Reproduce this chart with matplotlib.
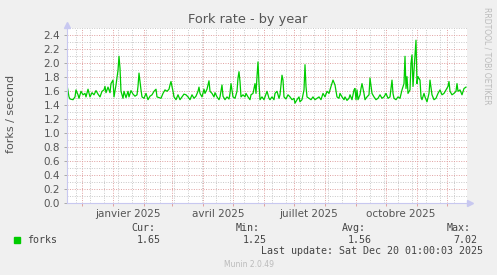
import datetime as dt
import pandas as pd
import matplotlib
matplotlib.use("Agg")
import matplotlib.pyplot as plt
import matplotlib.dates as mdates
from matplotlib.patches import Rectangle

# jours depuis le 16 nov 2024 et taux de forks
jours = [0, 2, 3, 6, 8, 9, 11, 12, 14, 16, 18, 19, 21, 23, 25, 27, 29, 31, 33, 35,
         37, 38, 39, 41, 43, 44, 46, 47, 49, 51, 52, 53, 54, 56, 57, 59, 61, 62, 64, 66,
         68, 70, 71, 72, 74, 75, 77, 79, 81, 83, 85, 87, 89, 90, 92, 94, 96, 98, 100, 102,
         103, 104, 106, 107, 109, 111, 113, 115, 117, 119, 121, 123, 125, 127, 129, 131, 132, 133,
         135, 137, 138, 140, 142, 143, 145, 147, 148, 150, 152, 153, 155, 156, 158, 160, 162, 163,
         164, 166, 168, 170, 171, 172, 173, 174, 176, 178, 179, 181, 183, 184, 186, 188, 189, 190,
         191, 192, 193, 195, 197, 198, 200, 202, 203, 205, 207, 208, 210, 212, 213, 215, 216, 217,
         219, 221, 223, 225, 227, 228, 230, 232, 233, 235, 237, 238, 239, 240, 242, 244, 246, 248,
         250, 252, 254, 256, 258, 260, 262, 264, 266, 268,
         270, 272, 273, 275, 277, 278, 280, 282, 283, 285, 287, 288, 289, 290, 291, 293, 294, 295,
         297, 298, 300, 302, 303, 305, 307, 309, 311, 313, 315, 317, 319, 321, 323, 325, 326, 327,
         329, 331, 333, 335, 337, 338, 339, 340, 341, 343, 344, 345, 346, 347, 349, 350, 351, 353,
         354, 355, 357, 358, 360, 362, 363, 365, 367, 369, 371, 373, 375, 377, 379, 381, 382, 383,
         385, 387, 389, 390, 391, 393, 395, 397, 399]
forks = [1.69, 1.52, 1.49, 1.48, 1.52, 1.62, 1.55, 1.50, 1.60, 1.55, 1.57, 1.52, 1.63, 1.52, 1.58, 1.55, 1.61, 1.56, 1.52, 1.60,
         1.62, 1.67, 1.58, 1.66, 1.58, 1.71, 1.76, 1.52, 1.69, 1.90, 2.10, 1.93, 1.60, 1.50, 1.60, 1.51, 1.60, 1.52, 1.61, 1.56,
         1.53, 1.55, 1.67, 1.86, 1.62, 1.52, 1.50, 1.57, 1.48, 1.53, 1.55, 1.60, 1.63, 1.52, 1.51, 1.50, 1.57, 1.62, 1.60, 1.63,
         1.69, 1.74, 1.60, 1.52, 1.48, 1.55, 1.48, 1.52, 1.56, 1.55, 1.52, 1.48, 1.55, 1.50, 1.53, 1.60, 1.66, 1.57,
         1.52, 1.63, 1.57, 1.63, 1.75, 1.60, 1.57, 1.52, 1.58, 1.52, 1.48, 1.52, 1.69, 1.53, 1.48, 1.52, 1.49, 1.57,
         1.71, 1.52, 1.50, 1.60, 1.79, 1.88, 1.74, 1.52, 1.55, 1.52, 1.57, 1.52, 1.48, 1.55, 1.57, 1.71, 1.57, 1.81,
         2.02, 1.71, 1.48, 1.52, 1.48, 1.52, 1.60, 1.50, 1.48, 1.52, 1.48, 1.57, 1.60, 1.50, 1.55, 1.83, 1.76, 1.52,
         1.49, 1.55, 1.52, 1.48, 1.50, 1.43, 1.48, 1.52, 1.45, 1.48, 1.62, 1.98, 1.67, 1.52, 1.50, 1.48, 1.52, 1.48,
         1.50, 1.52, 1.48, 1.57, 1.52, 1.60, 1.57, 1.67, 1.76, 1.69,
         1.52, 1.50, 1.57, 1.52, 1.48, 1.52, 1.47, 1.50, 1.55, 1.48, 1.62, 1.64, 1.48, 1.62, 1.48, 1.55, 1.64, 1.71,
         1.57, 1.48, 1.52, 1.55, 1.79, 1.57, 1.52, 1.48, 1.50, 1.55, 1.50, 1.52, 1.57, 1.50, 1.52, 1.76, 1.57, 1.50,
         1.48, 1.52, 1.50, 1.62, 1.71, 2.10, 1.64, 1.81, 1.57, 1.62, 2.00, 2.12, 1.67, 1.90, 2.33, 1.71, 1.81, 1.76,
         1.52, 1.48, 1.57, 1.52, 1.45, 1.57, 1.76, 1.55, 1.48, 1.50, 1.57, 1.62, 1.55, 1.57, 1.62, 1.67, 1.74, 1.60,
         1.55, 1.57, 1.60, 1.71, 1.60, 1.62, 1.55, 1.64, 1.66]

mois_labels = ["janvier 2025", "avril 2025", "juillet 2025", "octobre 2025"]
mois_dates = [dt.datetime(2025, 1, 16), dt.datetime(2025, 4, 16), dt.datetime(2025, 7, 16), dt.datetime(2025, 10, 16)]

stats_noms = ["Cur:", "Min:", "Avg:", "Max:"]
stats_vals = ["1.65", "1.25", "1.56", "7.02"]

debut = dt.datetime(2024, 11, 16)
fin = dt.datetime(2025, 12, 21)
dates = [debut + dt.timedelta(days=d) for d in jours]

W, H = 497, 275
fig = plt.figure(figsize=(W / 100, H / 100), dpi=100, facecolor="#f0f0f0")
ax = fig.add_axes([67 / W, 1 - 203.3 / H, 400 / W, 175 / H])
ax.set_facecolor("white")

gris = "#555555"
axe = "#c8c8f0"
rouge = "#e0a0a0"
grisgrille = "#c8c8c8"

ax.set_xlim(debut, fin)
ax.set_ylim(0, 2.5)

# grille horizontale
ax.set_yticks([i * 0.2 for i in range(13)])
ax.set_yticklabels(["%.1f" % (i * 0.2) for i in range(13)])
ax.set_yticks([i * 0.1 + 0.1 for i in range(0, 25, 2)], minor=True)
ax.grid(which="major", axis="y", color=rouge, linestyle=(0, (1, 1.5)), lw=0.7)
ax.grid(which="minor", axis="y", color=grisgrille, linestyle=(0, (1, 1.5)), lw=0.7)

# grille verticale : mois (rouge) et deux semaines (gris)
ax.xaxis.set_major_locator(mdates.MonthLocator())
ax.xaxis.set_major_formatter(plt.NullFormatter())
semaines = pd.date_range("2024-11-25", "2025-12-20", freq="14D")
ax.set_xticks(mdates.date2num(semaines.to_pydatetime()), minor=True)
ax.grid(which="major", axis="x", color=rouge, linestyle=(0, (1, 1.5)), lw=0.7)
ax.grid(which="minor", axis="x", color=grisgrille, linestyle=(0, (1, 1.5)), lw=0.7)
ax.set_axisbelow(True)

ax.tick_params(axis="y", which="major", length=2, width=0.7, color="#aaaaaa", pad=3,
               labelsize=7.5, labelcolor=gris)
ax.tick_params(axis="y", which="minor", length=0)
ax.tick_params(axis="x", which="major", length=2.5, width=0.7, color=rouge, pad=1)
ax.tick_params(axis="x", which="minor", length=0)

for s in ["top", "right"]:
    ax.spines[s].set_visible(False)
for s in ["left", "bottom"]:
    ax.spines[s].set_color(axe)
    ax.spines[s].set_linewidth(0.8)

# fleches des axes
ax.plot([1.0, 1.008], [0, 0], color=axe, lw=0.8, transform=ax.transAxes, clip_on=False)
ax.plot([1.008], [0], marker=">", ms=4, color=axe, transform=ax.transAxes, clip_on=False)
ax.plot([0, 0], [1.0, 1.02], color=axe, lw=0.8, transform=ax.transAxes, clip_on=False)
ax.plot([0], [1.02], marker="^", ms=4, color=axe, transform=ax.transAxes, clip_on=False)

ax.plot(dates, forks, color="#00cc00", lw=0.9)

for d, lab in zip(mois_dates, mois_labels):
    ax.text(d, -0.03, lab, transform=ax.get_xaxis_transform(), ha="center", va="top",
            fontsize=7.5, color=gris)

fig.text(248 / W, 1 - 19 / H, "Fork rate - by year", ha="center", va="center", fontsize=9.3, color=gris)
fig.text(11 / W, 1 - 114 / H, "forks / second", ha="center", va="center", rotation=90,
         fontsize=8, color=gris)
fig.text(487 / W, 1 - 56 / H, "RRDTOOL / TOBI OETIKER", ha="center", va="center", rotation=270,
         fontsize=5.5, color="#bbbbbb")

# legende
mono = "DejaVu Sans Mono"
fig.patches.append(Rectangle((14 / W, 1 - 242.7 / H), 6 / W, 6 / H, color="#00cc00",
                             transform=fig.transFigure))
fig.text(27 / W, 1 - 239.7 / H, "forks", ha="left", va="center", family=mono, fontsize=7.2, color="#444444")
noms_x = [155, 260, 366, 471]
vals_x = [160.5, 267, 371.5, 477]
for nx, vx, nom, val in zip(noms_x, vals_x, stats_noms, stats_vals):
    fig.text(nx / W, 1 - 228.3 / H, nom, ha="right", va="center", family=mono, fontsize=7.2, color="#444444")
    fig.text(vx / W, 1 - 239.7 / H, val, ha="right", va="center", family=mono, fontsize=7.2, color="#444444")
fig.text(483 / W, 1 - 251 / H, "Last update: Sat Dec 20 01:00:03 2025", ha="right", va="center",
         family=mono, fontsize=7.2, color="#444444")
fig.text(248.5 / W, 1 - 264.3 / H, "Munin 2.0.49", ha="center", va="center", fontsize=5.5, color="#bbbbbb")

fig.savefig("out.png", dpi=100, facecolor=fig.get_facecolor())
